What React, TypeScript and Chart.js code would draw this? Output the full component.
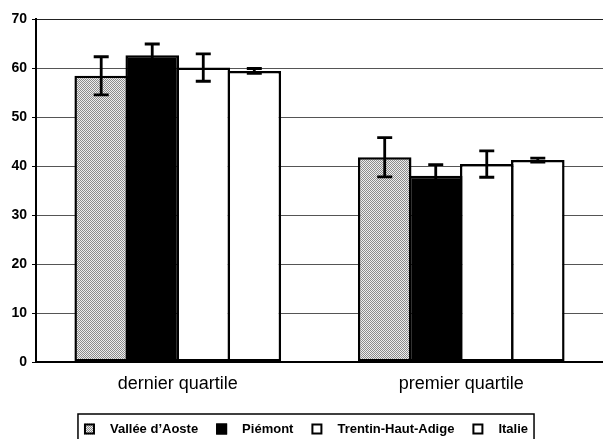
import React, { useEffect, useRef } from "react";
import { Chart, registerables } from "chart.js";

Chart.register(...registerables);

const categories = ["dernier quartile", "premier quartile"];
const seriesNames = ["Vallée d\u2019Aoste", "Piémont", "Trentin-Haut-Adige", "Italie"];
const valleeValues = [58.4, 41.8];
const valleeErrors = [3.9, 4.0];
const piemontValues = [62.6, 38.0];
const piemontErrors = [2.3, 2.3];
const trentinValues = [60.1, 40.4];
const trentinErrors = [2.8, 2.7];
const italieValues = [59.4, 41.2];
const italieErrors = [0.5, 0.4];
const yTicks = [0, 10, 20, 30, 40, 50, 60, 70];

function makePattern(): CanvasPattern | string {
  const c = document.createElement("canvas");
  c.width = 2;
  c.height = 2;
  const g = c.getContext("2d");
  if (!g) return "#bbbbbb";
  g.fillStyle = "#eeeeee";
  g.fillRect(0, 0, 2, 2);
  g.fillStyle = "#8c8c8c";
  g.fillRect(0, 0, 1, 1);
  g.fillRect(1, 1, 1, 1);
  return g.createPattern(c, "repeat") || "#bbbbbb";
}

const errorBarPlugin = {
  id: "errorBars",
  afterDatasetsDraw(chart: any) {
    const ctx = chart.ctx;
    const yScale = chart.scales.y;
    chart.data.datasets.forEach((ds: any, di: number) => {
      const meta = chart.getDatasetMeta(di);
      ds.errors.forEach((err: number, i: number) => {
        const bar = meta.data[i];
        const v = ds.data[i];
        const yTop = yScale.getPixelForValue(v + err);
        const yBot = yScale.getPixelForValue(v - err);
        const x = bar.x;
        const cap = 7.5;
        ctx.save();
        ctx.strokeStyle = "#000";
        ctx.lineWidth = 2.8;
        ctx.beginPath();
        ctx.moveTo(x, yTop);
        ctx.lineTo(x, yBot);
        ctx.moveTo(x - cap, yTop);
        ctx.lineTo(x + cap, yTop);
        ctx.moveTo(x - cap, yBot);
        ctx.lineTo(x + cap, yBot);
        ctx.stroke();
        ctx.restore();
      });
    });
  },
};

const boxedLegendPlugin = {
  id: "boxedLegend",
  afterDraw(chart: any) {
    const ctx = chart.ctx;
    const font = "bold 13px 'Liberation Sans', Arial, sans-serif";
    ctx.save();
    ctx.font = font;
    const box = 11;
    const textGap = 15;
    const itemGap = 18;
    const widths = chart.data.datasets.map((ds: any) => ctx.measureText(ds.label).width);
    const total =
      widths.reduce((a: number, w: number) => a + box + textGap + w, 0) + itemGap * (widths.length - 1);
    const centerX = 306;
    const cy = 429;
    let x = centerX - total / 2;
    ctx.strokeStyle = "#000";
    ctx.lineWidth = 1.5;
    ctx.strokeRect(x - 6, 414, total + 12, 40);
    chart.data.datasets.forEach((ds: any, i: number) => {
      ctx.fillStyle = ds.backgroundColor;
      ctx.fillRect(x, cy - box / 2, box, box);
      ctx.lineWidth = 2;
      ctx.strokeStyle = "#000";
      ctx.strokeRect(x + 1, cy - box / 2 + 1, box - 2, box - 2);
      ctx.fillStyle = "#000";
      ctx.textBaseline = "middle";
      ctx.textAlign = "left";
      ctx.fillText(ds.label, x + box + textGap, cy);
      x += box + textGap + widths[i] + itemGap;
    });
    ctx.restore();
  },
};

export default function App() {
  const ref = useRef<HTMLCanvasElement>(null);
  useEffect(() => {
    document.body.style.margin = "0";
    const canvas = ref.current;
    if (!canvas) return;
    const pattern = makePattern();
    const values = [valleeValues, piemontValues, trentinValues, italieValues];
    const errors = [valleeErrors, piemontErrors, trentinErrors, italieErrors];
    const fills = [pattern, "#000000", "#ffffff", "#ffffff"];
    const chart = new Chart(canvas, {
      type: "bar",
      data: {
        labels: categories,
        datasets: seriesNames.map((name, i) => ({
          label: name,
          data: values[i],
          errors: errors[i],
          backgroundColor: fills[i],
          borderColor: "#000",
          borderWidth: 2.5,
          borderSkipped: false,
          categoryPercentage: 0.72,
          barPercentage: 1.05,
        })) as any,
      },
      options: {
        animation: false,
        responsive: false,
        maintainAspectRatio: false,
        layout: { padding: { top: 19, left: 0, right: 0, bottom: 0 } },
        plugins: { legend: { display: false }, tooltip: { enabled: false } },
        scales: {
          x: {
            grid: { display: false, drawTicks: false },
            border: { color: "#000", width: 2 },
            ticks: {
              padding: 11,
              color: "#000",
              font: { family: "'Liberation Sans', Arial, sans-serif", size: 18 },
            },
            afterFit: (s: any) => {
              s.height = 77;
            },
          },
          y: {
            min: 0,
            max: 70,
            afterBuildTicks: (s: any) => {
              s.ticks = yTicks.map((v) => ({ value: v }));
            },
            grid: {
              color: (c: any) => (c.tick && c.tick.value === 70 ? "#222" : "#555"),
              lineWidth: 1,
              tickLength: 4,
              tickColor: "#000",
            },
            border: { color: "#000", width: 2 },
            ticks: {
              padding: 5,
              color: "#000",
              font: { family: "'Liberation Sans', Arial, sans-serif", size: 14, weight: "bold" },
            },
            afterFit: (s: any) => {
              s.width = 36;
            },
          },
        },
      },
      plugins: [errorBarPlugin, boxedLegendPlugin],
    });
    return () => chart.destroy();
  }, []);
  return (
    <div style={{ position: "absolute", left: 0, top: 0, width: 603, height: 439 }}>
      <canvas ref={ref} width={603} height={439} style={{ display: "block", width: 603, height: 439 }} />
    </div>
  );
}
